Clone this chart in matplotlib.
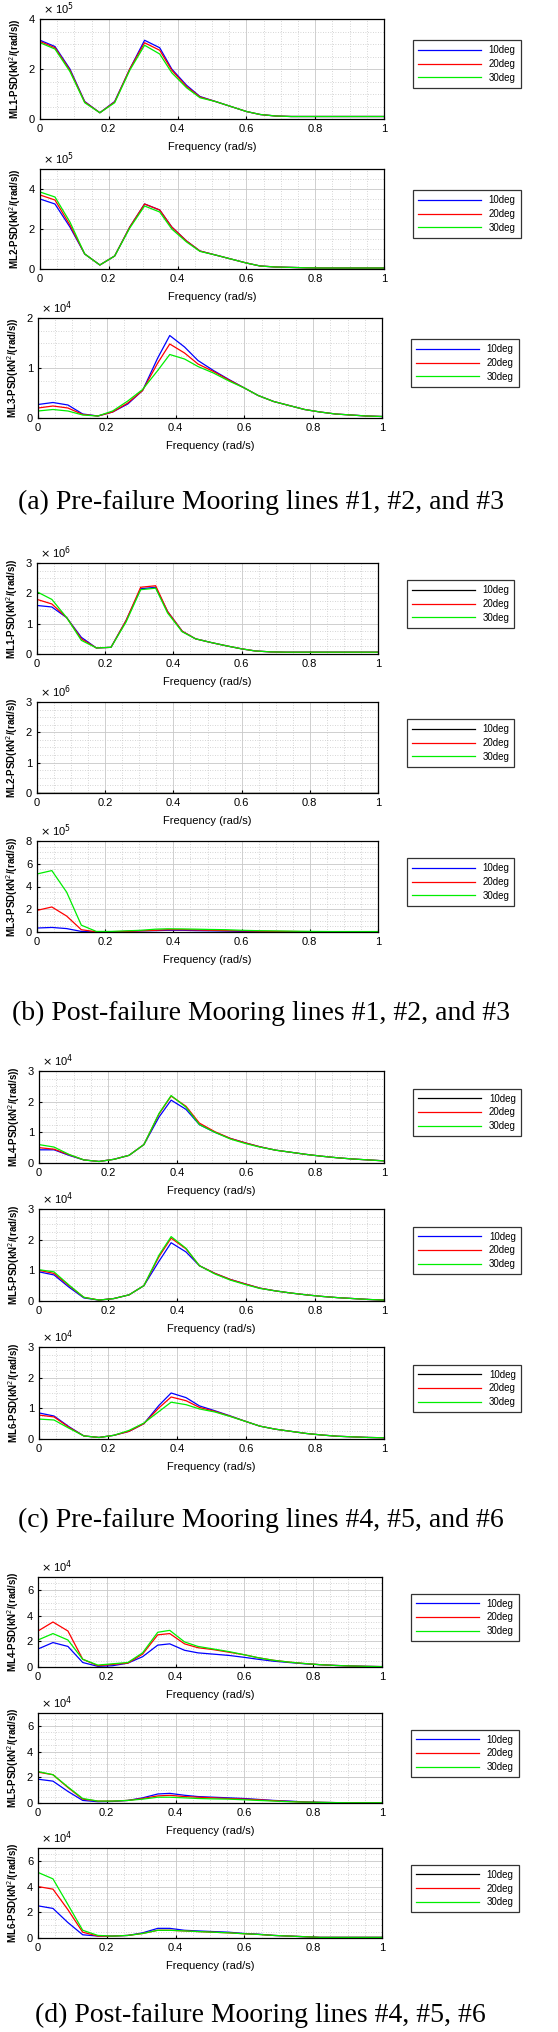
import matplotlib
matplotlib.use("Agg")
import matplotlib.pyplot as plt
from matplotlib.ticker import MultipleLocator
from matplotlib.lines import Line2D

freq = [0, 0.0435, 0.087, 0.13, 0.174, 0.217, 0.261, 0.304, 0.348, 0.383, 0.426, 0.465,
        0.51, 0.555, 0.6, 0.64, 0.685, 0.73, 0.775, 0.82, 0.865, 0.91, 0.955, 1.0]
labels = ["10deg", "20deg", "30deg"]

a1 = [[3.15,2.9,2.0,0.7,0.25,0.7,2.0,3.15,2.85,2.0,1.35,0.9,0.7,0.5,0.3,0.18,0.12,0.1,0.1,0.1,0.1,0.1,0.1,0.1],
      [3.1,2.85,1.95,0.68,0.25,0.68,2.0,3.05,2.75,1.95,1.3,0.88,0.7,0.5,0.3,0.18,0.12,0.1,0.1,0.1,0.1,0.1,0.1,0.1],
      [3.05,2.8,1.9,0.65,0.25,0.65,1.95,2.95,2.6,1.85,1.25,0.85,0.7,0.5,0.3,0.18,0.12,0.1,0.1,0.1,0.1,0.1,0.1,0.1]]
a2 = [[3.5,3.25,2.1,0.75,0.2,0.65,2.1,3.25,2.95,2.1,1.4,0.9,0.7,0.5,0.3,0.15,0.1,0.08,0.06,0.05,0.05,0.05,0.05,0.05],
      [3.7,3.45,2.2,0.75,0.2,0.65,2.1,3.25,2.95,2.1,1.4,0.9,0.7,0.5,0.3,0.15,0.1,0.08,0.06,0.05,0.05,0.05,0.05,0.05],
      [3.85,3.6,2.35,0.75,0.2,0.65,2.05,3.15,2.85,2.0,1.35,0.88,0.7,0.5,0.3,0.15,0.1,0.08,0.06,0.05,0.05,0.05,0.05,0.05]]
a3 = [[.27,.31,.26,.08,.04,.12,.28,.55,1.2,1.65,1.42,1.15,.95,.77,.6,.45,.33,.25,.17,.12,.08,.06,.04,.03],
      [.2,.24,.2,.07,.04,.12,.30,.55,1.1,1.48,1.3,1.08,.93,.76,.6,.45,.33,.25,.17,.12,.08,.06,.04,.03],
      [.14,.17,.14,.06,.04,.14,.34,.57,.95,1.27,1.18,1.03,.9,.74,.6,.45,.33,.25,.17,.12,.08,.06,.04,.03]]
b1 = [[1.6,1.55,1.2,0.55,0.2,0.22,1.1,2.15,2.2,1.4,0.75,0.5,0.38,0.27,0.17,0.1,0.07,0.06,0.06,0.06,0.06,0.06,0.06,0.06],
      [1.8,1.65,1.2,0.5,0.2,0.22,1.1,2.2,2.25,1.4,0.75,0.5,0.38,0.27,0.17,0.1,0.07,0.06,0.06,0.06,0.06,0.06,0.06,0.06],
      [2.05,1.8,1.2,0.45,0.2,0.22,1.05,2.12,2.17,1.35,0.73,0.5,0.38,0.27,0.17,0.1,0.07,0.06,0.06,0.06,0.06,0.06,0.06,0.06]]
b2 = [[0.0]*24, [0.0]*24, [0.0]*24]
b3 = [[.35,.4,.3,.05,0,0,.05,.1,.12,.15,.15,.12,.1,.08,.05,.03,.02,.02,.02,.02,.02,.02,.02,.02],
      [1.9,2.2,1.4,.2,.02,.03,.05,.1,.15,.2,.2,.18,.15,.12,.1,.08,.06,.05,.04,.03,.03,.03,.03,.03],
      [5.1,5.4,3.5,.6,.05,.05,.1,.15,.25,.28,.27,.25,.22,.2,.15,.12,.1,.08,.06,.05,.04,.04,.04,.04]]
c1 = [[.43,.43,.25,.1,.05,.12,.25,.6,1.5,2.05,1.75,1.25,1.0,.8,.65,.53,.42,.35,.28,.22,.17,.13,.1,.07],
      [.5,.45,.27,.1,.05,.12,.25,.6,1.6,2.18,1.85,1.3,1.02,.8,.65,.53,.42,.35,.28,.22,.17,.13,.1,.07],
      [.6,.52,.28,.1,.05,.12,.25,.6,1.62,2.2,1.82,1.25,1.0,.78,.63,.52,.42,.35,.28,.22,.17,.13,.1,.07]]
c2 = [[.95,.85,.45,.1,.03,.08,.2,.5,1.3,1.9,1.6,1.15,.9,.7,.55,.42,.33,.26,.2,.15,.11,.08,.05,.03],
      [1.0,.9,.5,.12,.03,.08,.2,.5,1.45,2.05,1.7,1.15,.9,.7,.55,.42,.33,.26,.2,.15,.11,.08,.05,.03],
      [1.02,.95,.52,.12,.03,.08,.2,.5,1.5,2.1,1.72,1.15,.88,.68,.53,.41,.33,.26,.2,.15,.11,.08,.05,.03]]
c3 = [[.85,.75,.4,.1,.05,.12,.25,.5,1.1,1.5,1.35,1.08,.92,.75,.57,.42,.32,.25,.18,.13,.09,.07,.05,.04],
      [.78,.72,.38,.1,.05,.12,.25,.5,1.02,1.37,1.25,1.03,.9,.74,.57,.42,.32,.25,.18,.13,.09,.07,.05,.04],
      [.65,.62,.35,.1,.05,.12,.28,.52,.9,1.2,1.12,.98,.88,.73,.57,.42,.32,.25,.18,.13,.09,.07,.05,.04]]
d1 = [[1.4,1.9,1.6,.35,.05,.1,.3,.8,1.7,1.8,1.3,1.1,1.0,.9,.75,.6,.45,.35,.25,.18,.12,.08,.05,.03],
      [2.8,3.5,2.8,.6,.1,.2,.3,1.0,2.5,2.6,1.8,1.5,1.35,1.15,.95,.72,.52,.38,.27,.18,.12,.08,.05,.03],
      [2.1,2.6,2.1,.6,.15,.25,.35,1.1,2.7,2.85,1.95,1.6,1.4,1.2,.95,.72,.52,.38,.27,.18,.12,.08,.05,.03]]
d2 = [[1.85,1.7,.9,.2,.1,.12,.2,.4,.7,.75,.6,.5,.45,.4,.35,.28,.2,.15,.08,.05,.03,.02,.02,.02],
      [2.4,2.2,1.2,.3,.15,.15,.2,.35,.55,.6,.5,.45,.4,.35,.3,.25,.18,.12,.08,.05,.03,.02,.02,.02],
      [2.45,2.2,1.25,.35,.15,.15,.2,.3,.45,.45,.4,.35,.32,.3,.25,.2,.15,.1,.07,.05,.03,.02,.02,.02]]
d3 = [[2.5,2.3,1.2,.25,.15,.15,.2,.4,.75,.75,.6,.55,.5,.45,.35,.3,.2,.15,.1,.05,.05,.05,.05,.05],
      [4.0,3.8,2.2,.45,.15,.15,.2,.35,.6,.6,.55,.5,.45,.4,.33,.28,.2,.15,.1,.05,.05,.05,.05,.05],
      [5.1,4.6,2.6,.6,.2,.15,.2,.35,.6,.6,.55,.5,.45,.4,.33,.28,.2,.15,.1,.05,.05,.05,.05,.05]]

# (name, data, exponent, ymax, ytick step, first legend colour, top px, height px, left px, right px)
panels = [
    ("ML1", a1, 5, 4, 2, "blue", 19, 100, 40, 384),
    ("ML2", a2, 5, 5, 2, "blue", 169, 100, 40, 384),
    ("ML3", a3, 4, 2, 1, "blue", 318, 100, 38, 382),
    ("ML1", b1, 6, 3, 1, "black", 563, 91, 37, 378),
    ("ML2", b2, 6, 3, 1, "black", 702, 91, 37, 378),
    ("ML3", b3, 5, 8, 2, "blue", 841, 91, 37, 378),
    ("ML4", c1, 4, 3, 1, "black", 1071, 92, 39, 384),
    ("ML5", c2, 4, 3, 1, "blue", 1209, 92, 39, 384),
    ("ML6", c3, 4, 3, 1, "black", 1347, 92, 39, 384),
    ("ML4", d1, 4, 7, 2, "blue", 1577, 90, 38, 382),
    ("ML5", d2, 4, 7, 2, "blue", 1713, 90, 38, 382),
    ("ML6", d3, 4, 7, 2, "black", 1848, 90, 38, 382),
]
captions = [("(a) Pre-failure Mooring lines #1, #2, and #3", 502),
            ("(b) Post-failure Mooring lines #1, #2, and #3", 1013),
            ("(c) Pre-failure Mooring lines #4, #5, and #6", 1520),
            ("(d) Post-failure Mooring lines #4, #5, #6", 2015)]
caption_x = [18, 12, 18, 35]

W, H = 558, 2032
fig = plt.figure(figsize=(W/100, H/100), dpi=100)
plt.rcParams['font.family'] = ['Liberation Sans', 'DejaVu Sans']
GREEN = "#00ee00"

for name, data, ex, ymax, step, c0, top, h, l, r in panels:
    ax = fig.add_axes([l/W, 1-(top+h)/H, (r-l)/W, h/H])
    for ser, col in zip(data, ["blue", "red", GREEN]):
        ax.plot(freq, ser, color=col, lw=0.9)
    ax.set_xlim(0, 1)
    ax.set_ylim(0, ymax)
    ax.xaxis.set_minor_locator(MultipleLocator(0.05))
    ax.yaxis.set_major_locator(MultipleLocator(step))
    ax.yaxis.set_minor_locator(MultipleLocator(step/4))
    ax.set_xticks([0, 0.2, 0.4, 0.6, 0.8, 1.0])
    ax.set_xticklabels(["0", "0.2", "0.4", "0.6", "0.8", "1"])
    ax.grid(which='major', color='#c8c8c8', lw=0.6)
    ax.grid(which='minor', color='#c8c8c8', lw=0.6, ls=(0, (1, 2)))
    ax.tick_params(which='both', direction='in', labelsize=8, length=2.5)
    ax.tick_params(which='minor', length=0)
    for s in ax.spines.values():
        s.set_linewidth(0.9)
    ax.set_xlabel("Frequency (rad/s)", fontsize=8, labelpad=6)
    ax.set_ylabel(name + "-PSD(kN$^2$/(rad/s))", fontsize=7, fontweight='bold', labelpad=4)
    ax.text(0.01, 1.02, r"$\times$ 10$^{%d}$" % ex, transform=ax.transAxes, fontsize=8, va='bottom')
    handles = [Line2D([], [], color=c, lw=0.9) for c in [c0, "red", GREEN]]
    leg = ax.legend(handles, labels, loc='center left', bbox_to_anchor=(1.07, 0.55), fontsize=7,
                    handlelength=6.5, frameon=True, fancybox=False, edgecolor='black',
                    borderpad=0.5, labelspacing=0.4, handletextpad=0.8)
    leg.get_frame().set_linewidth(0.9)

for (txt, y), x in zip(captions, caption_x):
    fig.text(x/W, 1-y/H, txt, fontsize=20, family='Liberation Serif', va='center', ha='left')

fig.savefig("out.png", dpi=100)
